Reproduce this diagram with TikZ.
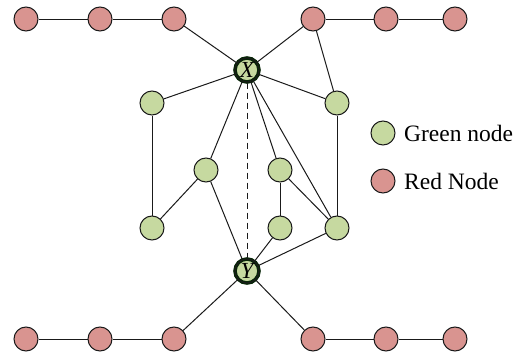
\documentclass[tikz,border=0pt]{standalone}
\usepackage{fontspec}
\setmainfont{Liberation Serif}
\definecolor{gfill}{HTML}{C6D9A0}
\definecolor{rfill}{HTML}{D99490}
\definecolor{edge}{HTML}{1A1A1A}
\begin{document}
\begin{tikzpicture}[x=1pt,y=-1pt,
  gnode/.style={circle,draw=edge,line width=1pt,fill=gfill,minimum size=24pt,inner sep=0pt},
  rnode/.style={circle,draw=edge,line width=1pt,fill=rfill,minimum size=24pt,inner sep=0pt},
  hub/.style={circle,draw=edge!70!green!40!black,line width=1.3pt,double=edge,double distance=1pt,fill=gfill,minimum size=24pt,inner sep=0pt,font=\fontsize{23}{23}\selectfont\itshape},
  link/.style={draw=edge,line width=1pt},
  legtext/.style={anchor=west,font=\fontsize{23.5}{23.5}\selectfont,inner sep=0pt}]
\useasboundingbox (0,0) rectangle (523,356);
% top reds
\node[rnode] (t1) at (26,19) {};
\node[rnode] (t2) at (100,19) {};
\node[rnode] (t3) at (174,19) {};
\node[rnode] (t4) at (313,19) {};
\node[rnode] (t5) at (386,19) {};
\node[rnode] (t6) at (455,19) {};
% bottom reds
\node[rnode] (b1) at (26,339) {};
\node[rnode] (b2) at (100,339) {};
\node[rnode] (b3) at (174,339) {};
\node[rnode] (b4) at (313,339) {};
\node[rnode] (b5) at (386,339) {};
\node[rnode] (b6) at (455,339) {};
% greens
\node[gnode] (glt) at (152,103) {};
\node[gnode] (glb) at (152,228) {};
\node[gnode] (gml) at (206,170) {};
\node[gnode] (gmr) at (280,170) {};
\node[gnode] (gmb) at (280,228) {};
\node[gnode] (grt) at (337,103) {};
\node[gnode] (grb) at (337,228) {};
% hubs
\node[hub] (X) at (247,70) {X};
\node[hub] (Y) at (247,271) {Y};
% edges
\draw[link] (t1) -- (t2) -- (t3);
\draw[link] (t4) -- (t5) -- (t6);
\draw[link] (b1) -- (b2) -- (b3);
\draw[link] (b4) -- (b5) -- (b6);
\draw[link] (t3) -- (X);
\draw[link] (t4) -- (X);
\draw[link] (t4) -- (grt);
\draw[link] (X) -- (glt);
\draw[link] (X) -- (gml);
\draw[link] (X) -- (gmr);
\draw[link] (X) -- (grb);
\draw[link] (X) -- (grt);
\draw[link,dash pattern=on 6pt off 4pt] (X) -- (Y);
\draw[link] (glt) -- (glb);
\draw[link] (glb) -- (gml);
\draw[link] (gml) -- (Y);
\draw[link] (gmr) -- (gmb);
\draw[link] (gmr) -- (grb);
\draw[link] (gmb) -- (Y);
\draw[link] (grt) -- (grb);
\draw[link] (grb) -- (Y);
\draw[link] (Y) -- (b3);
\draw[link] (Y) -- (b4);
% legend
\node[gnode] (lg) at (383,133) {};
\node[rnode] (lr) at (383,181) {};
\node[legtext] (lgt) at (404,133) {Green node};
\node[legtext] (lrt) at (404,181) {Red Node};
\end{tikzpicture}
\end{document}
